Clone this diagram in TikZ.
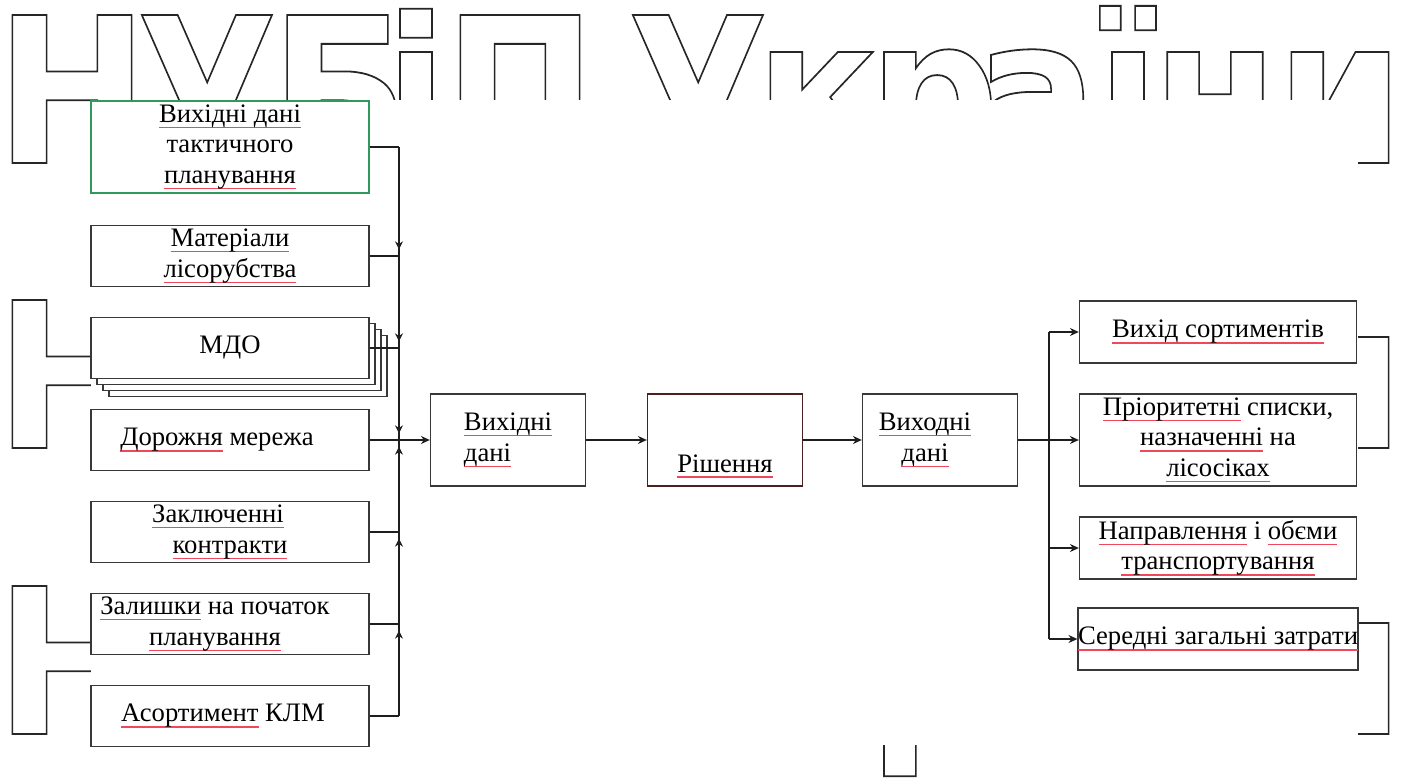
\documentclass[tikz,border=0pt]{standalone}
\usepackage{fontspec}
\setmainfont{Liberation Serif}
\newfontfamily\wmfamily{DejaVu Sans}
\usepackage{tikz}
\usetikzlibrary{arrows.meta,positioning,shadows,calc}
\definecolor{ink}{HTML}{1E1E1E}
\definecolor{boxline}{HTML}{383838}
\definecolor{tacgreen}{HTML}{2E9A5E}
\definecolor{decred}{HTML}{4A1F1F}
\definecolor{wmline}{HTML}{262626}
\definecolor{spellred}{HTML}{F0485A}
\newcommand{\boxfont}{\fontsize{12pt}{13.8pt}\selectfont}
\newcommand{\wmfont}{\wmfamily\bfseries\fontsize{91.35pt}{100pt}\selectfont}
\newcommand{\wmon}{\special{pdf:literal direct 1 Tr 0.8 w}}
\newcommand{\wmoff}{\special{pdf:literal direct 0 Tr}}
\newcommand{\spellmark}[1]{\sbox0{#1}\rlap{\textcolor{spellred}{\rule[-2.6pt]{\wd0}{0.6pt}}}\usebox0}
\tikzset{
  srcbox/.style={draw=boxline,fill=white,line width=0.6pt,
                 minimum width=125.1pt,minimum height=27.45pt,
                 inner sep=0pt,align=center,font=\boxfont},
  midbox/.style={draw=boxline,fill=white,line width=0.6pt,
                 minimum width=69.75pt,minimum height=41.4pt,
                 inner sep=0pt,align=center,font=\boxfont},
  resbox/.style={draw=boxline,fill=white,line width=0.6pt,
                 minimum width=124.65pt,minimum height=27.9pt,
                 inner sep=0pt,align=center,font=\boxfont},
  multidoc/.style={copy shadow={shadow xshift=8.1pt,shadow yshift=-8.1pt},
                   copy shadow={shadow xshift=5.4pt,shadow yshift=-5.4pt},
                   copy shadow={shadow xshift=2.7pt,shadow yshift=-2.7pt}},
  wmglyph/.style={anchor=base,inner sep=0pt,font=\wmfont,text=wmline,xscale=0.9},
  wire/.style={draw=ink,line width=0.55pt},
  tip/.style={-{Stealth[length=4pt,width=3.6pt]}},
  bustip/.style={-{Stealth[length=3.6pt,width=3.6pt]},shorten >=3pt}
}
\begin{document}
\begin{tikzpicture}[x=0.45pt,y=-0.45pt]
  \path[use as bounding box,fill=white] (0,0) rectangle (1406,778);
  \foreach \ch/\cx in {Н/72,У/207,Б/340,і/416,П/520,У/698,к/817,р/934,а/1036,ї/1128,н/1215,и/1340}
    \node[wmglyph] (wm-top-\cx) at (\cx,163) {\wmon\ch\wmoff};
  \foreach \by in {448,734} {
    \node[wmglyph] (wm-h-\by) at (72,\by) {\wmon Н\wmoff};
    \node[wmglyph] (wm-y-\by) at (1340,\by) {\wmon и\wmoff};
  }
  \node[wmglyph] (wm-r-734) at (934,734) {\wmon р\wmoff};
  \fill[white] (91,100) rectangle (1358,745);

  \node[srcbox,draw=tacgreen,minimum height=41.4pt] (tactic) at (230,147)
    {\spellmark{Вихідні дані}\\тактичного\\\spellmark{планування}};
  \node[srcbox] (harvest) at (230,256) {\spellmark{Матеріали}\\\spellmark{лісорубства}};
  \node[srcbox,multidoc] (mdo) at (230,348) {МДО};
  \node[srcbox] (roads) at (230,440) {\spellmark{Дорожня} мережа\hspace*{11.7pt}};
  \node[srcbox] (contracts) at (230,532)
    {\spellmark{Заключенні}\hspace*{10.8pt}\\\spellmark{контракти}};
  \node[srcbox] (stocks) at (230,624)
    {\spellmark{Залишки} на початок\hspace*{13.5pt}\\\spellmark{планування}\hspace*{13.5pt}};
  \node[srcbox] (assort) at (230,716) {\spellmark{Асортимент} КЛМ\hspace*{6.3pt}};

  \node[midbox,align=left] (indata) at (508,440) {\spellmark{Вихідні}\\\spellmark{дані}};
  \node[midbox,draw=decred,text height=28.8pt,text depth=0pt] (solve) at (725,440)
    {\spellmark{Рішення}};
  \node[midbox] (outdata) at (940,440)
    {\spellmark{Виходні}\hspace*{13.5pt}\\\spellmark{дані}\hspace*{13.5pt}};

  \node[resbox] (yield) at (1218,332) {\spellmark{Вихід сортиментів}};
  \node[resbox,minimum height=41.4pt] (priority) at (1218,440)
    {\spellmark{Пріоритетні} списки,\\\spellmark{назначенні} на\\\spellmark{лісосіках}};
  \node[resbox] (haul) at (1218,548)
    {\spellmark{Направлення} і \spellmark{обєми}\\\spellmark{транспортування}};
  \node[resbox] (costs) at (1218,639) {\spellmark{Середні загальні затрати}};

  \coordinate (lbus) at (399,440);
  \coordinate (rbus) at (1049,440);
  \foreach \src in {tactic,harvest,mdo,roads,contracts,stocks,assort}
    \draw[wire] (\src.east) -- (\src.east -| lbus);
  \draw[wire] (tactic.east -| lbus) -- (assort.east -| lbus);
  \draw[wire,bustip] (tactic.east -| lbus) -- (harvest.east -| lbus);
  \draw[wire,bustip] (harvest.east -| lbus) -- (mdo.east -| lbus);
  \draw[wire,bustip] (mdo.east -| lbus) -- (lbus);
  \draw[wire,bustip] (assort.east -| lbus) -- (stocks.east -| lbus);
  \draw[wire,bustip] (stocks.east -| lbus) -- (contracts.east -| lbus);
  \draw[wire,bustip] (contracts.east -| lbus) -- (lbus);
  \draw[wire,tip] (lbus) -- (indata.west);
  \draw[wire,tip] (indata) -- (solve);
  \draw[wire,tip] (solve) -- (outdata);
  \draw[wire,tip] (outdata) -- (priority);
  \draw[wire] (yield.west -| rbus) -- (costs.west -| rbus);
  \foreach \dst in {yield,haul,costs}
    \draw[wire,tip] (\dst.west -| rbus) -- (\dst.west);
\end{tikzpicture}
\end{document}
